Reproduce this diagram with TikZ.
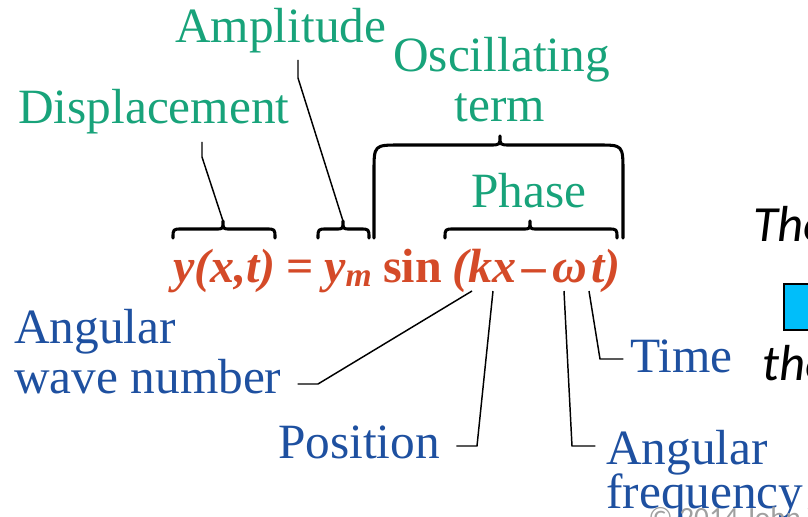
\documentclass[tikz,border=0pt]{standalone}
\usepackage{fontspec}
\setmainfont{Liberation Serif}
\newfontfamily\calib{Carlito}
\definecolor{lgreen}{RGB}{24,163,122}
\definecolor{lblue}{RGB}{30,80,160}
\definecolor{lred}{RGB}{212,74,40}
\definecolor{boxblue}{RGB}{0,190,250}
\definecolor{cgray}{RGB}{160,160,160}
\newcommand\mybrace[3]{\draw[brc] (#1,238) .. controls (#1,229) .. (#1+9,229) -- (#2-7,229) .. controls (#2,229) .. (#2,221) .. controls (#2,229) .. (#2+7,229) -- (#3-9,229) .. controls (#3,229) .. (#3,238);}
\newcommand\esp{\hspace{0.22em}}
\begin{document}
\begin{tikzpicture}[x=0.75pt,y=-0.75pt,
  lbl/.style={inner sep=0pt, font=\fontsize{37}{40}\selectfont},
  grn/.style={lbl,text=lgreen},
  blu/.style={lbl,text=lblue},
  eqn/.style={inner sep=0pt, text=lred, font=\fontsize{36}{40}\selectfont\bfseries},
  side/.style={inner sep=0pt, font=\calib\itshape\fontsize{38}{40}\selectfont},
  lead/.style={line width=1.1pt, black},
  brc/.style={line width=2.3pt, black, line cap=round, line join=round}]
\useasboundingbox (0,0) rectangle (808,517);
\clip (0,0) rectangle (808,517);
% green labels
\node[grn,anchor=base west] (amp) at (175,43) {Amplitude};
\node[grn,anchor=base west] (osc) at (393,72) {Oscillating};
\node[grn,anchor=base] (term) at (500,122) {term};
\node[grn,anchor=base west] (disp) at (18,123) {Displacement};
\node[grn,anchor=base] (phase) at (529,208) {Phase};
% equation
\node[eqn,anchor=base west] (eq) at (173,282) {\itshape y(x,t)\upshape\esp=\esp\itshape y\textsubscript{m}\upshape\esp sin\esp\itshape(kx\hspace{0.13em}–\hspace{0.13em}ω\hspace{0.08em}t)};
% blue labels
\node[blu,anchor=base west] (awn1) at (14,343) {Angular};
\node[blu,anchor=base west] (awn2) at (14,393) {wave number};
\node[blu,anchor=base west] (pos) at (278,458) {Position};
\node[blu,anchor=base west] (time) at (630,372) {Time};
\node[blu,anchor=base west] (af1) at (606,464) {Angular};
\node[blu,anchor=base west] (af2) at (606,508) {frequency};
% braces
\mybrace{173}{223}{275}
\mybrace{318}{343}{369}
\mybrace{445}{530}{617}
\draw[brc] (374,238) -- (374,172) .. controls (374,145) .. (400,145) -- (490,145) .. controls (500,145) .. (500,136) .. controls (500,145) .. (510,145) -- (598,145) .. controls (623,145) .. (623,172) -- (623,238);
% coordinates
\coordinate (dtip) at (223,221);
\coordinate (atip) at (343,221);
\coordinate (dbend) at (202,157);
\coordinate (abend) at (298,78);
\coordinate (kx) at (472,291);
\coordinate (xx) at (493,291);
\coordinate (om) at (564,291);
\coordinate (tt) at (589,291);
\coordinate (awnb) at (318,384);
\coordinate (posb) at (477,446);
\coordinate (afb) at (572,446);
\coordinate (tb) at (600,359);
% leaders
\draw[lead] (disp.south -| dbend) ++(0,8) -- (dbend) -- (dtip);
\draw[lead] (amp.south -| abend) ++(0,6) -- (abend) -- (atip);
\draw[lead] (kx) -- (awnb) -- ([xshift=12pt]awn2.east |- awnb);
\draw[lead] (xx) -- (posb) -- ([xshift=12pt]pos.east |- posb);
\draw[lead] (om) -- (afb) -- ([xshift=-8pt]af1.west |- afb);
\draw[lead] (tt) -- (tb) -- ([xshift=-5pt]time.west |- tb);
% right-hand fragments
\node[side,anchor=base west] (the1) at (753,242) {The};
\node[side,anchor=base west] (the2) at (762,380) {the};
\node[draw=black, line width=1.2pt, fill=boxblue, anchor=north west, minimum width=45pt, minimum height=34.5pt, inner sep=0pt] (box) at (783,283) {};
\node[inner sep=0pt, anchor=base west, text=cgray, font=\calib\fontsize{22}{24}\selectfont] (copy) at (648,527) {© 2014 John Wiley \& Sons, Inc.};
\end{tikzpicture}
\end{document}
